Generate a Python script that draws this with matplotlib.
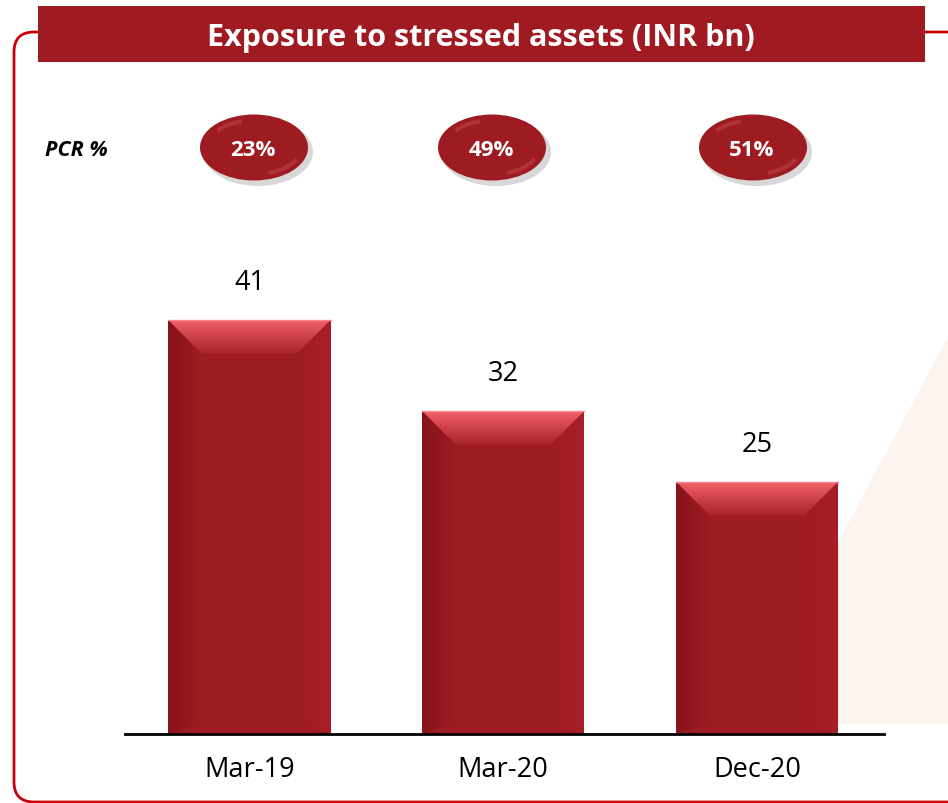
import numpy as np
import matplotlib
matplotlib.use("Agg")
import matplotlib.pyplot as plt
from matplotlib.patches import Rectangle, Ellipse, Polygon, FancyBboxPatch, Arc

# data
periods = ["Mar-19", "Mar-20", "Dec-20"]
exposure = [41, 32, 25]
pcr = ["23%", "49%", "51%"]

title = "Exposure to stressed assets (INR bn)"
font = "Open Sans"
dark_red = "#9E1B22"
banner_red = "#A01A21"
line_red = "#C8000A"

W, H = 948, 804
fig = plt.figure(figsize=(W / 100, H / 100), dpi=100)

# background layer in pixel coordinates
bg = fig.add_axes([0, 0, 1, 1])
bg.set_xlim(0, W)
bg.set_ylim(H, 0)
bg.axis("off")

# faint decorative triangle
bg.add_patch(Polygon([(955, 325), (741, 725), (955, 725)], closed=True,
                     facecolor="#FDF3EF", edgecolor="none", zorder=0))

# rounded frame (right side runs off the image)
bg.add_patch(FancyBboxPatch((14, 33), 990, 770,
                            boxstyle="round,pad=0,rounding_size=20",
                            facecolor="none", edgecolor=line_red, lw=2, zorder=1))

# title banner
bg.add_patch(Rectangle((38, 7), 887, 56, facecolor=banner_red, edgecolor="none", zorder=2))
bg.text(481, 38, title, color="white", fontsize=22, fontweight="bold",
        family=font, ha="center", va="center", zorder=3)

# PCR row
bg.text(45, 151, "PCR %", fontsize=15.5, fontweight="bold", style="italic",
        family=font, ha="left", va="center", zorder=3)
pill_x = [254, 492, 753]
for cx, lab in zip(pill_x, pcr):
    bg.add_patch(Ellipse((cx + 4, 153), 110, 68, facecolor="#808080",
                         edgecolor="none", alpha=0.3, zorder=2))
    bg.add_patch(Ellipse((cx, 148.5), 108, 66, facecolor=dark_red,
                         edgecolor="none", zorder=3))
    bg.add_patch(Arc((cx, 148.5), 94, 54, theta1=15, theta2=60,
                     color="#D65B62", lw=3, alpha=0.35, zorder=4))
    bg.add_patch(Arc((cx, 148.5), 94, 54, theta1=205, theta2=245,
                     color="#D65B62", lw=3, alpha=0.35, zorder=4))
    bg.text(cx - 1, 150, lab, color="white", fontsize=16, fontweight="bold",
            family=font, ha="center", va="center", zorder=5)

# chart axes
ax_l, ax_b = 125 / W, (H - 735) / H
ax_w, ax_h = 759 / W, 505 / H
ax = fig.add_axes([ax_l, ax_b, ax_w, ax_h])
ax.patch.set_alpha(0)
x = np.arange(len(periods))
ax.set_xlim(-0.49, 2.5)
ax.set_ylim(0, 50)

bw = 0.64
bars = ax.bar(x, exposure, width=bw, color=dark_red, zorder=2)

# bevel in data units (about 34 px)
px_x = ax_w * W / 2.99
px_y = ax_h * H / 50
dx, dy = 34 / px_x, 34 / px_y


def grad_fill(poly_pts, c0, c1, horizontal=False):
    poly = Polygon(poly_pts, closed=True, facecolor="none", edgecolor="none")
    ax.add_patch(poly)
    xs = [p[0] for p in poly_pts]
    ys = [p[1] for p in poly_pts]
    t = np.linspace(0, 1, 64)
    c0 = np.array(matplotlib.colors.to_rgb(c0))
    c1 = np.array(matplotlib.colors.to_rgb(c1))
    cols = c0[None, :] * (1 - t[:, None]) + c1[None, :] * t[:, None]
    img = cols[None, :, :] if horizontal else cols[:, None, :]
    ext = (min(xs), max(xs), min(ys), max(ys))
    im = ax.imshow(img, extent=ext, origin="upper", aspect="auto",
                   interpolation="bilinear", zorder=3)
    im.set_clip_path(poly)


for xi, v in zip(x, exposure):
    l, r = xi - bw / 2, xi + bw / 2
    # left side
    grad_fill([(l, v), (l + dx, v - dy), (l + dx, dy * 0.3), (l, 0)],
              "#86141A", dark_red, horizontal=True)
    # right side
    grad_fill([(r, v), (r - dx, v - dy), (r - dx, dy * 0.3), (r, 0)],
              dark_red, "#A81E26", horizontal=True)
    # top bevel
    grad_fill([(l, v), (r, v), (r - dx, v - dy), (l + dx, v - dy)],
              "#F2606A", "#A82229")
    ax.plot([l, r], [v, v], color="#F58A90", lw=1, zorder=4)
    ax.annotate(str(v), (xi, v), xytext=(0, 27), textcoords="offset points",
                ha="center", va="center", fontsize=19.5, family=font)

ax.set_xticks(x)
ax.set_xticklabels(periods, fontsize=19.5, family=font)
ax.tick_params(axis="x", length=0, pad=15)
ax.set_yticks([])
for s in ["top", "left", "right"]:
    ax.spines[s].set_visible(False)
ax.spines["bottom"].set_linewidth(2)
ax.spines["bottom"].set_zorder(5)

fig.savefig("out.png", dpi=100)
